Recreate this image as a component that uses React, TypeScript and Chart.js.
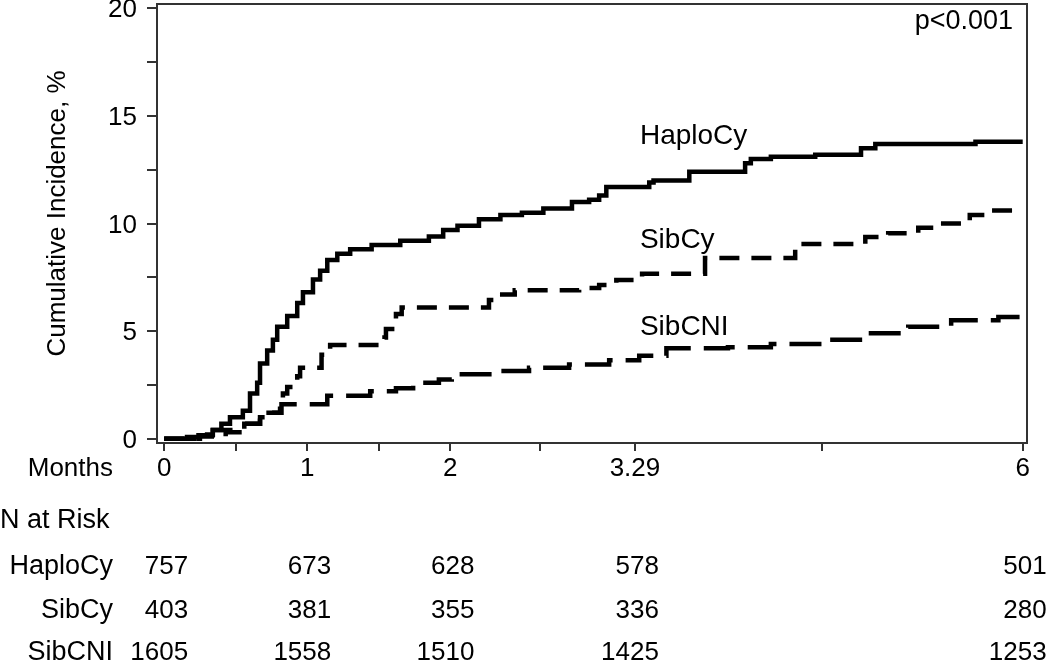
import React, { useEffect, useRef } from 'react';
import { Chart, registerables } from 'chart.js';

Chart.register(...registerables);

const FONT = "'Liberation Sans', Arial, Helvetica, sans-serif";

// x axis (months)
const majorTickValues = [0, 1, 2, 3.29, 6];
const majorTickLabels = ['0', '1', '2', '3.29', '6'];
const minorTickValues = [0.5, 1.5, 2.63, 4.6];

// y axis (%)
const yTickValues = [0, 2.5, 5, 7.5, 10, 12.5, 15, 17.5, 20];
const yTickLabels = ['0', '', '5', '', '10', '', '15', '', '20'];
const yTitle = 'Cumulative Incidence, %';

// Cumulative incidence step curves (months, %)
const haploMonths = [0, 0.16, 0.24, 0.34, 0.4, 0.46, 0.55, 0.6, 0.65, 0.67, 0.72, 0.76, 0.79, 0.86, 0.93, 0.97, 1.04, 1.09, 1.14, 1.21, 1.3, 1.45, 1.65, 1.85, 1.95, 2.05, 2.2, 2.35, 2.5, 2.65, 2.85, 2.97, 3.04, 3.09, 3.39, 3.42, 3.67, 4.06, 4.1, 4.24, 4.55, 4.87, 4.97, 5.67, 6.0];
const haploPct = [0, 0.08, 0.16, 0.4, 0.7, 1.0, 1.3, 2.1, 2.6, 3.5, 4.1, 4.6, 5.2, 5.7, 6.3, 6.8, 7.4, 7.8, 8.3, 8.6, 8.8, 9.0, 9.2, 9.4, 9.7, 9.9, 10.2, 10.4, 10.5, 10.7, 11.0, 11.1, 11.3, 11.7, 11.9, 12.0, 12.4, 12.8, 13.0, 13.1, 13.2, 13.5, 13.7, 13.8, 13.8];

const sibCyMonths = [0, 0.25, 0.43, 0.56, 0.67, 0.81, 0.83, 0.86, 0.93, 0.95, 1.1, 1.16, 1.54, 1.55, 1.62, 1.66, 2.27, 2.34, 2.45, 2.9, 3.04, 3.16, 3.34, 3.78, 4.41, 4.45, 4.9, 5.06, 5.27, 5.41, 5.63, 5.78, 6.0];
const sibCyPct = [0, 0.1, 0.3, 0.7, 1.2, 1.5, 2.1, 2.4, 2.9, 3.3, 3.9, 4.35, 4.7, 5.1, 5.8, 6.1, 6.45, 6.7, 6.9, 7.0, 7.14, 7.37, 7.67, 8.4, 8.85, 9.05, 9.37, 9.55, 9.8, 10.0, 10.4, 10.6, 10.6];

const sibCniMonths = [0, 0.25, 0.34, 0.56, 0.67, 0.77, 0.82, 1.14, 1.44, 1.62, 1.74, 1.92, 2.01, 2.34, 2.55, 2.83, 3.11, 3.32, 3.51, 3.94, 4.24, 4.62, 4.9, 5.2, 5.5, 5.83, 6.0];
const sibCniPct = [0, 0.2, 0.4, 0.7, 1.0, 1.2, 1.6, 2.0, 2.2, 2.35, 2.6, 2.75, 3.0, 3.15, 3.3, 3.45, 3.65, 3.85, 4.2, 4.25, 4.4, 4.6, 4.9, 5.2, 5.5, 5.65, 5.65];

// Number at risk
const riskMonths = [0, 1, 2, 3.29, 6];
const riskHaploCy = [757, 673, 628, 578, 501];
const riskSibCy = [403, 381, 355, 336, 280];
const riskSibCNI = [1605, 1558, 1510, 1425, 1253];

const groupNames = ['HaploCy', 'SibCy', 'SibCNI'];
// curve label anchor values (%), placed at the 3.29-month tick
const curveLabelPct = [13.7, 8.85, 4.8];

const toPoints = (xs: number[], ys: number[]) => xs.map((x, i) => ({ x, y: ys[i] }));

const overlayPlugin = {
  id: 'overlay',
  afterDraw(chart: any) {
    const { ctx, chartArea: a, scales } = chart;
    const xs = scales.x;
    const ys = scales.y;
    ctx.save();
    // top & right frame
    ctx.strokeStyle = '#333';
    ctx.lineWidth = 2;
    ctx.beginPath();
    ctx.moveTo(a.left - 1, a.top);
    ctx.lineTo(a.right, a.top);
    ctx.lineTo(a.right, a.bottom + 1);
    ctx.stroke();

    ctx.fillStyle = '#000';

    // y axis title
    ctx.save();
    ctx.font = `26px ${FONT}`;
    ctx.translate(58, (a.top + a.bottom) / 2 - 10);
    ctx.rotate(-Math.PI / 2);
    ctx.textAlign = 'center';
    ctx.textBaseline = 'middle';
    ctx.fillText(yTitle, 0, 0);
    ctx.restore();

    // p-value
    ctx.font = `27px ${FONT}`;
    ctx.textAlign = 'right';
    ctx.textBaseline = 'alphabetic';
    ctx.fillText('p<0.001', a.right - 14, 29);

    // curve labels
    ctx.font = `28px ${FONT}`;
    ctx.textAlign = 'left';
    groupNames.forEach((n, i) => {
      ctx.fillText(n, xs.getPixelForValue(3.29) + 5, ys.getPixelForValue(curveLabelPct[i]));
    });

    // risk table
    ctx.textBaseline = 'middle';
    ctx.font = `26px ${FONT}`;
    ctx.textAlign = 'right';
    ctx.fillText('Months', 113, 469);
    ctx.font = `27px ${FONT}`;
    ctx.textAlign = 'left';
    ctx.fillText('N at Risk', 0, 521);
    const rows = [riskHaploCy, riskSibCy, riskSibCNI];
    const rowY = [567, 611, 653];
    rows.forEach((vals, i) => {
      ctx.textAlign = 'right';
      ctx.font = `27px ${FONT}`;
      ctx.fillText(groupNames[i], 113, rowY[i]);
      ctx.font = `26px ${FONT}`;
      vals.forEach((v, j) => {
        ctx.fillText(String(v), xs.getPixelForValue(riskMonths[j]) + 24, rowY[i]);
      });
    });
    ctx.restore();
  },
};

export default function App() {
  const ref = useRef<HTMLCanvasElement | null>(null);
  useEffect(() => {
    if (!ref.current) return;
    const lineBase = {
      borderColor: '#000',
      borderWidth: 4.5,
      pointRadius: 0,
      stepped: true as const,
      fill: false,
      borderCapStyle: 'butt' as const,
    };
    const chart = new Chart(ref.current, {
      type: 'line',
      data: {
        datasets: [
          { ...lineBase, label: 'HaploCy', data: toPoints(haploMonths, haploPct) },
          { ...lineBase, label: 'SibCy', data: toPoints(sibCyMonths, sibCyPct), borderDash: [20, 12] },
          { ...lineBase, label: 'SibCNI', data: toPoints(sibCniMonths, sibCniPct), borderDash: [32, 13] },
        ],
      },
      options: {
        animation: false,
        responsive: false,
        devicePixelRatio: 1,
        layout: { padding: { top: 4, right: 23, left: 0, bottom: 0 } },
        plugins: { legend: { display: false }, tooltip: { enabled: false } },
        scales: {
          x: {
            type: 'linear',
            min: -0.05,
            max: 6.03,
            afterBuildTicks: (s: any) => {
              const all = [...majorTickValues, ...minorTickValues].sort((p, q) => p - q);
              s.ticks = all.map((v) => ({ value: v }));
            },
            afterFit: (s: any) => {
              s.height = 226;
              s.paddingLeft = 0;
              s.paddingRight = 0;
            },
            ticks: {
              autoSkip: false,
              maxRotation: 0,
              minRotation: 0,
              padding: 2,
              color: '#000',
              font: { family: FONT, size: 26 },
              callback: (v: any) => {
                const i = majorTickValues.findIndex((m) => Math.abs(m - Number(v)) < 1e-6);
                return i >= 0 ? majorTickLabels[i] : '';
              },
            },
            grid: { drawOnChartArea: false, drawTicks: true, tickLength: 8, color: '#333', lineWidth: 2 },
            border: { display: true, color: '#333', width: 2 },
          },
          y: {
            type: 'linear',
            min: -0.2,
            max: 20.2,
            afterBuildTicks: (s: any) => {
              s.ticks = yTickValues.map((v) => ({ value: v }));
            },
            afterFit: (s: any) => {
              s.width = 157;
              s.paddingTop = 0;
              s.paddingBottom = 0;
            },
            ticks: {
              padding: 10,
              labelOffset: 2,
              color: '#000',
              font: { family: FONT, size: 26 },
              callback: (v: any) => {
                const i = yTickValues.findIndex((m) => Math.abs(m - Number(v)) < 1e-6);
                return i >= 0 ? yTickLabels[i] : '';
              },
            },
            grid: { drawOnChartArea: false, drawTicks: true, tickLength: 10, color: '#333', lineWidth: 2 },
            border: { display: true, color: '#333', width: 2 },
            title: { display: false },
          },
        },
      },
      plugins: [overlayPlugin],
    });
    return () => chart.destroy();
  }, []);

  return (
    <div style={{ position: 'absolute', left: 0, top: 0, width: 1050, height: 669, background: '#fff' }}>
      <canvas ref={ref} width={1050} height={669} style={{ width: 1050, height: 669, display: 'block' }} />
    </div>
  );
}
